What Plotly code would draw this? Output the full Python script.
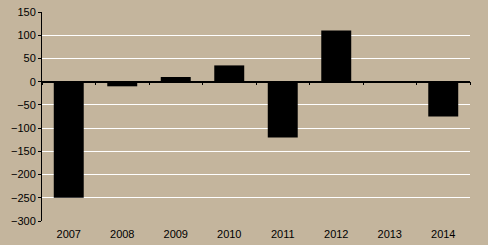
import plotly.graph_objects as go

years = ["2007", "2008", "2009", "2010", "2011", "2012", "2013", "2014"]
values = [-250, -10, 10, 35, -120, 110, 0, -75]
y_ticks = [150, 100, 50, 0, -50, -100, -150, -200, -250, -300]

bg = "#C4B59D"

fig = go.Figure()
fig.add_trace(go.Bar(x=years, y=values, marker=dict(color="black", line=dict(width=0)),
                     xaxis="x", yaxis="y", showlegend=False, hoverinfo="x+y"))
fig.add_trace(go.Bar(x=years, y=[None] * len(years), xaxis="x2", yaxis="y",
                     showlegend=False, hoverinfo="skip"))

fig.update_layout(
    width=488, height=245,
    margin=dict(l=42, r=18, t=12, b=24, autoexpand=False),
    paper_bgcolor=bg, plot_bgcolor=bg,
    bargap=0.44,
    font=dict(family="Liberation Sans, Arial, sans-serif", size=11, color="#000000"),
    xaxis=dict(type="category", showgrid=False, showline=False, ticks="outside",
               ticklen=3, tickcolor="rgba(0,0,0,0)", automargin=False,
               zeroline=False, tickfont=dict(size=11)),
    xaxis2=dict(type="category", overlaying="x", matches="x", anchor="free",
                position=300 / 450, side="bottom", showline=True, linecolor="black",
                linewidth=1.5, ticks="outside", tickson="boundaries", ticklen=3,
                tickcolor="black", tickwidth=1, showticklabels=False, showgrid=False,
                zeroline=False, automargin=False),
    yaxis=dict(range=[-300, 150], tickvals=y_ticks, showgrid=True, gridcolor="white",
               gridwidth=1, zeroline=False, showline=True, linecolor="black",
               linewidth=1, ticks="outside", ticklen=3, tickcolor="black",
               automargin=False, tickfont=dict(size=11)),
)

fig.write_html("out.html")
